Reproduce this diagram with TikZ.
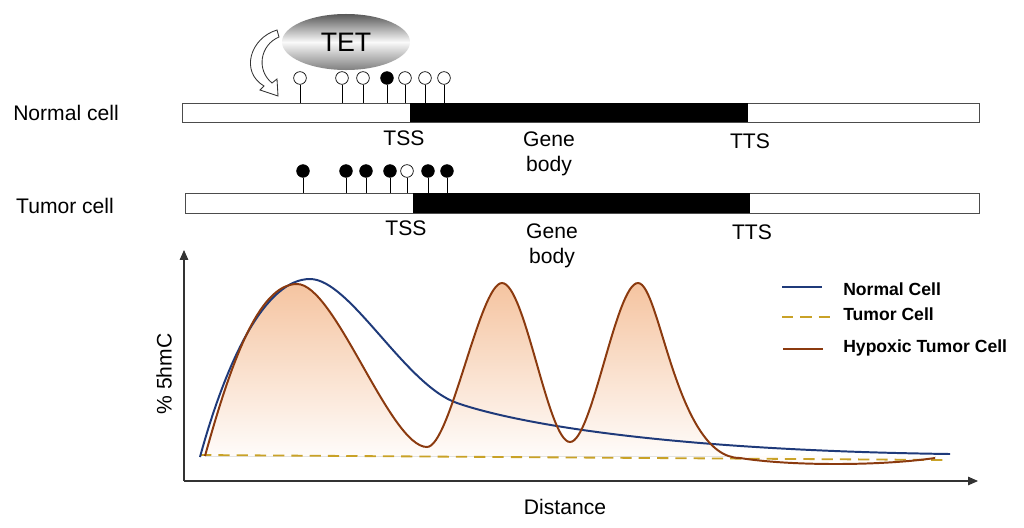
\documentclass[tikz,border=0pt]{standalone}
\usepackage{fontspec}
\setmainfont{Liberation Sans}
\usetikzlibrary{shapes.geometric, arrows.meta, positioning, calc}

\definecolor{normalblue}{RGB}{31,58,122}
\definecolor{tumorgold}{RGB}{201,162,39}
\definecolor{hypoxbrown}{RGB}{139,58,15}
\definecolor{peach}{RGB}{245,196,160}

\begin{document}
\begin{tikzpicture}[
    x=0.025cm, y=-0.025cm,
    font=\fontsize{15}{17.7}\selectfont,
    txt/.style={inner sep=0pt, align=center},
    bar/.style={draw=black!70, line width=0.6pt, fill=white},
    openpin/.style={circle, draw=black, fill=white, line width=0.5pt, minimum size=9pt, inner sep=0pt},
    fullpin/.style={openpin, fill=black},
    stem/.style={draw=black, line width=0.6pt},
    axis/.style={draw=black!80, line width=0.8pt, -{Triangle[length=7pt, width=6pt]}},
    normalcurve/.style={normalblue, line width=1.4pt},
    tumorcurve/.style={tumorgold, line width=1.3pt, dash pattern=on 8pt off 5pt},
    hypoxcurve/.style={hypoxbrown, line width=1.4pt},
    legendtext/.style={font=\fontsize{12.5}{14}\selectfont\bfseries, anchor=west, inner sep=0pt},
]
\useasboundingbox (0,0) rectangle (1024,527);

% Normal cell
\node[txt] (normallab) at (66,113) {Normal cell};
\draw[bar] (182,103) rectangle (979,122);
\fill[black] (410,103) rectangle (748,122);
\coordinate (nbartop) at (182,103);
\node[txt] (ntss) at (404,138) {TSS};
\node[txt] (ngene) at (549,154) {Gene\\body};
\node[txt] (ntts) at (750,141) {TTS};

% TET enzyme and arrow
\node[ellipse, minimum width=3.2cm, minimum height=1.4cm, top color=black!65, bottom color=black!50, middle color=black!2, font=\fontsize{19}{21}\selectfont] (tet) at (346,42) {TET};
\draw[black!80, fill=white, line width=0.6pt] (277,30) .. controls (250,38) and (240,72) .. (264,86)
    -- (260,90) -- (278,96) -- (277,79) -- (272,83)
    .. controls (256,70) and (260,45) .. (279,37) -- cycle;

% Pins, normal cell
\node[openpin] (np1) at (300,78) {};
\node[openpin] (np2) at (342,78) {};
\node[openpin] (np3) at (363,78) {};
\node[fullpin] (np4) at (387,78) {};
\node[openpin] (np5) at (405,78) {};
\node[openpin] (np6) at (425,78) {};
\node[openpin] (np7) at (444,78) {};
\foreach \p in {np1,np2,np3,np4,np5,np6,np7}
    \draw[stem] (\p.south) -- (\p.south |- nbartop);

% Tumor cell
\node[txt] (tumorlab) at (65,206) {Tumor cell};
\draw[bar] (185,193) rectangle (979,213);
\fill[black] (413,193) rectangle (750,213);
\coordinate (tbartop) at (185,193);
\node[txt] (ttss) at (406,228) {TSS};
\node[txt] (tgene) at (552,246) {Gene\\body};
\node[txt] (ttts) at (752,232) {TTS};

% Pins, tumor cell
\node[fullpin] (tp1) at (303,171) {};
\node[fullpin] (tp2) at (346,171) {};
\node[fullpin] (tp3) at (366,171) {};
\node[fullpin] (tp4) at (390,171) {};
\node[openpin] (tp5) at (407,171) {};
\node[fullpin] (tp6) at (428,171) {};
\node[fullpin] (tp7) at (447,171) {};
\foreach \p in {tp1,tp2,tp3,tp4,tp5,tp6,tp7}
    \draw[stem] (\p.south) -- (\p.south |- tbartop);

% Axes
\coordinate (origin) at (184,481);
\coordinate (ytop) at (184,250);
\coordinate (xend) at (978,481);
\draw[axis] (origin) -- (ytop);
\draw[axis] (origin) -- (xend);
\node[txt, rotate=90] (ylab) at (164,374) {\% 5hmC};
\node[txt] (xlab) at (565,507) {Distance};

% Curves
\fill[top color=peach, bottom color=white] (205,456)
    .. controls (230,366) and (258,284) .. (297,284)
    .. controls (335,284) and (390,447) .. (427,447)
    .. controls (450,447) and (480,283) .. (502,283)
    .. controls (525,283) and (548,442) .. (570,442)
    .. controls (592,442) and (616,283) .. (638,283)
    .. controls (660,283) and (676,458) .. (740,458)
    .. controls (790,466) and (880,466) .. (935,458) -- (935,456) -- cycle;
\draw[tumorcurve] (200,455) -- (948,460);
\draw[normalcurve] (200,457)
    .. controls (227,358) and (266,279) .. (310,279)
    .. controls (350,279) and (405,385) .. (457,403)
    .. controls (509,421) and (650,450) .. (950,454);
\draw[hypoxcurve] (205,456)
    .. controls (230,366) and (258,284) .. (297,284)
    .. controls (335,284) and (390,447) .. (427,447)
    .. controls (450,447) and (480,283) .. (502,283)
    .. controls (525,283) and (548,442) .. (570,442)
    .. controls (592,442) and (616,283) .. (638,283)
    .. controls (660,283) and (676,458) .. (740,458)
    .. controls (790,466) and (880,466) .. (935,458);

% Legend
\node[legendtext] (lgnormal) at (843,289) {Normal Cell};
\node[legendtext] (lgtumor) at (843,314) {Tumor Cell};
\node[legendtext] (lghypox) at (843,348) {Hypoxic Tumor Cell};
\draw[normalcurve] ($(lgnormal.west)+(-61,-2)$) -- ($(lgnormal.west)+(-21,-2)$);
\draw[tumorcurve] ($(lgtumor.west)+(-61,3)$) -- ($(lgtumor.west)+(-13,3)$);
\draw[hypoxcurve] ($(lghypox.west)+(-60,1)$) -- ($(lghypox.west)+(-20,1)$);

\end{tikzpicture}
\end{document}
